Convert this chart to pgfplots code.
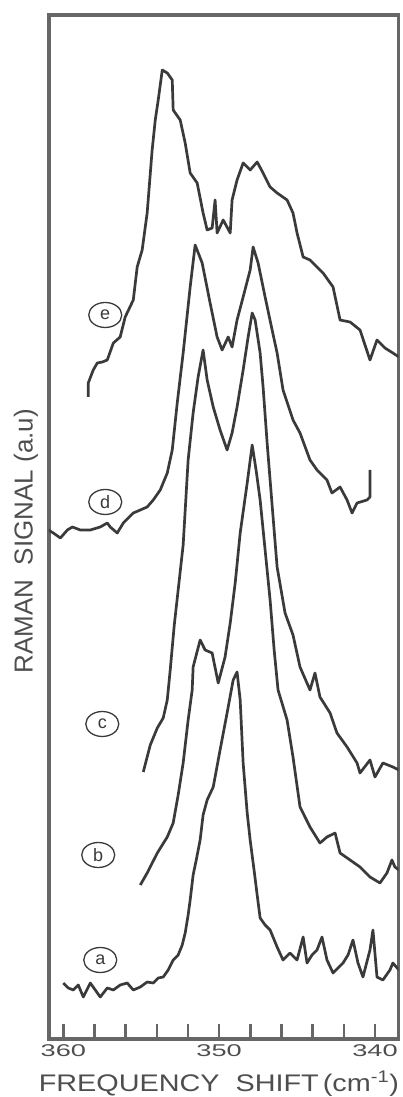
\documentclass[border=0pt]{standalone}
\usepackage{fontspec}
\setmainfont{Liberation Sans}
\newfontfamily\tickfont[FakeStretch=1.6]{Liberation Sans}
\newfontfamily\xlabfont[FakeStretch=1.2]{Liberation Sans}
\usepackage{pgfplots}
\pgfplotsset{compat=1.18}
\usetikzlibrary{shapes.geometric}
\definecolor{axgray}{HTML}{666666}
\definecolor{curvegray}{HTML}{3A3A3A}
\definecolor{txtgray}{HTML}{4E4E4E}
\begin{document}
\begin{tikzpicture}
\path[use as bounding box] (-49pt,-58pt) rectangle (354pt,1039pt);
\begin{axis}[
  at={(0,0)}, anchor=south west,
  scale only axis, width=349.5pt, height=1024pt,
  x dir=reverse,
  xmin=338.49, xmax=360.92,
  ymin=0, ymax=1024,
  axis line style={line width=3.4pt, color=axgray},
  xtick={340,342,344,346,348,350,352,354,356,358,360},
  xticklabels={340,,,,,350,,,,,360},
  xtick pos=bottom,
  xtick align=inside,
  major tick length=15pt,
  every tick/.style={line width=2.6pt, color=axgray},
  xticklabel style={font=\fontsize{17}{20}\tickfont, text=txtgray, anchor=center, yshift=-12pt},
  ytick=\empty,
  xlabel={FREQUENCY\ \ SHIFT\,(cm\textsuperscript{-1})},
  ylabel={RAMAN\ \ SIGNAL (a.u)},
  every axis x label/.style={at={(axis description cs:0.486,-0.044)}, anchor=center, font=\fontsize{24}{28}\xlabfont, text=txtgray},
  every axis y label/.style={at={(axis description cs:-0.0658,0.486)}, rotate=90, anchor=center, font=\fontsize{26}{30}\selectfont, text=txtgray},
  clip=true,
]
% curve e
\addplot[curvegray, line width=2.7pt, line join=round] coordinates {
(358.40,642) (358.40,656) (358.08,669) (357.82,676) (357.50,677) (357.18,679)
(356.79,696) (356.35,702) (356.03,722) (355.51,739) (355.26,772) (354.94,789)
(354.62,826) (354.30,889) (354.10,919) (353.91,939) (353.65,969) (353.33,966)
(353.01,959) (352.95,929) (352.50,919) (352.18,896) (351.86,866) (351.41,856)
(351.03,826) (350.77,809) (350.45,811) (350.26,839) (350.13,806) (349.74,819)
(349.29,806) (349.17,839) (348.85,859) (348.46,876) (348.01,869) (347.56,877)
(347.18,866) (346.73,852) (346.28,846) (345.64,839) (345.26,826) (345.00,806)
(344.61,782) (344.17,779) (343.72,772) (343.33,766) (342.69,752) (342.24,719)
(341.60,717) (340.96,709) (340.64,694) (340.32,679) (339.87,699) (339.36,691)
(338.85,686) (338.46,682)
};
% curve d
\addplot[curvegray, line width=2.7pt, line join=round] coordinates {
(360.96,509) (360.64,506) (360.19,501) (359.74,509) (359.42,512) (358.91,509)
(358.27,509) (357.63,512) (357.18,516) (356.99,512) (356.54,506) (356.15,516)
(355.51,526) (355.06,529) (354.62,532) (354.23,539) (353.78,549) (353.33,566)
(353.01,589) (352.69,636) (352.31,686) (351.86,752) (351.54,794) (351.09,776)
(350.58,736) (350.13,702) (349.81,689) (349.42,702) (349.17,692) (348.85,719)
(348.46,742) (348.01,769) (347.82,792) (347.50,776) (347.05,742) (346.60,709)
(346.28,686) (345.90,649) (345.26,619) (344.81,606) (344.17,579) (343.72,569)
(343.08,559) (342.76,546) (342.24,552) (341.79,539) (341.47,526) (341.15,536)
(340.51,539) (340.32,542) (340.32,569)
};
% curve c
\addplot[curvegray, line width=2.7pt, line join=round] coordinates {
(354.87,267) (354.42,294) (353.97,311) (353.59,321) (353.33,339) (353.14,369)
(352.88,414) (352.63,449) (352.31,494) (351.99,579) (351.67,626) (351.35,662)
(351.03,689) (350.77,659) (350.38,632) (349.94,609) (349.49,589) (349.17,606)
(348.85,632) (348.46,669) (348.14,702) (347.88,726) (347.69,719) (347.37,686)
(347.18,652) (346.92,596) (346.54,522) (346.28,472) (345.77,426) (345.26,404)
(344.81,372) (344.17,349) (343.85,366) (343.53,342) (342.88,326) (342.44,306)
(341.79,292) (341.15,276) (340.96,266) (340.32,279) (340.00,262) (339.49,276)
(338.85,272) (338.46,269)
};
% curve b
\addplot[curvegray, line width=2.7pt, line join=round] coordinates {
(355.06,154) (354.62,166) (353.97,186) (353.33,202) (352.95,216) (352.63,244)
(352.31,276) (351.99,319) (351.73,349) (351.67,372) (351.22,399) (350.90,389)
(350.45,386) (350.06,356) (349.62,382) (349.29,416) (348.97,456) (348.65,506)
(348.20,556) (347.88,594) (347.63,569) (347.37,539) (347.05,489) (346.73,439)
(346.47,389) (346.22,349) (345.64,319) (345.26,282) (344.81,232) (344.17,212)
(343.53,196) (343.08,202) (342.56,206) (342.24,186) (341.60,179) (340.96,172)
(340.32,162) (339.68,156) (339.23,166) (338.91,179) (338.72,172) (338.46,169)
};
% curve a
\addplot[curvegray, line width=2.7pt, line join=round] coordinates {
(360.00,56) (359.68,51) (359.36,49) (359.04,54) (358.72,42) (358.27,56)
(357.95,49) (357.63,42) (357.18,51) (356.79,49) (356.35,54) (355.90,56)
(355.51,49) (355.06,52) (354.62,57) (354.23,56) (353.91,61) (353.59,62)
(353.27,69) (352.95,79) (352.63,84) (352.37,94) (352.18,106) (351.99,124)
(351.86,139) (351.67,164) (351.47,179) (351.22,199) (351.03,224) (350.77,239)
(350.38,252) (349.94,289) (349.49,326) (349.10,359) (348.85,367) (348.65,339)
(348.46,276) (348.20,226) (348.01,199) (347.76,169) (347.56,144) (347.37,121)
(347.05,114) (346.73,109) (346.28,92) (345.90,79) (345.45,86) (345.00,79)
(344.61,102) (344.36,76) (344.04,84) (343.72,89) (343.40,102) (343.08,79)
(342.69,66) (342.37,71) (342.05,76) (341.73,84) (341.41,99) (341.09,76)
(340.77,62) (340.32,89) (340.13,109) (339.87,62) (339.49,59) (339.04,69)
(338.85,76) (338.46,69)
};
% circled curve labels
\tikzset{lab/.style={ellipse, draw=curvegray, line width=1.3pt, minimum width=33pt, minimum height=25pt, inner sep=0pt, text=curvegray, font=\fontsize{18}{20}\selectfont}}
\node[lab] at (axis cs:357.31,724) {e};
\node[lab] at (axis cs:357.31,537) {d};
\node[lab] at (axis cs:357.50,315) {c};
\node[lab] at (axis cs:357.76,184) {b};
\node[lab] at (axis cs:357.63,79) {a};
\end{axis}
\end{tikzpicture}
\end{document}
